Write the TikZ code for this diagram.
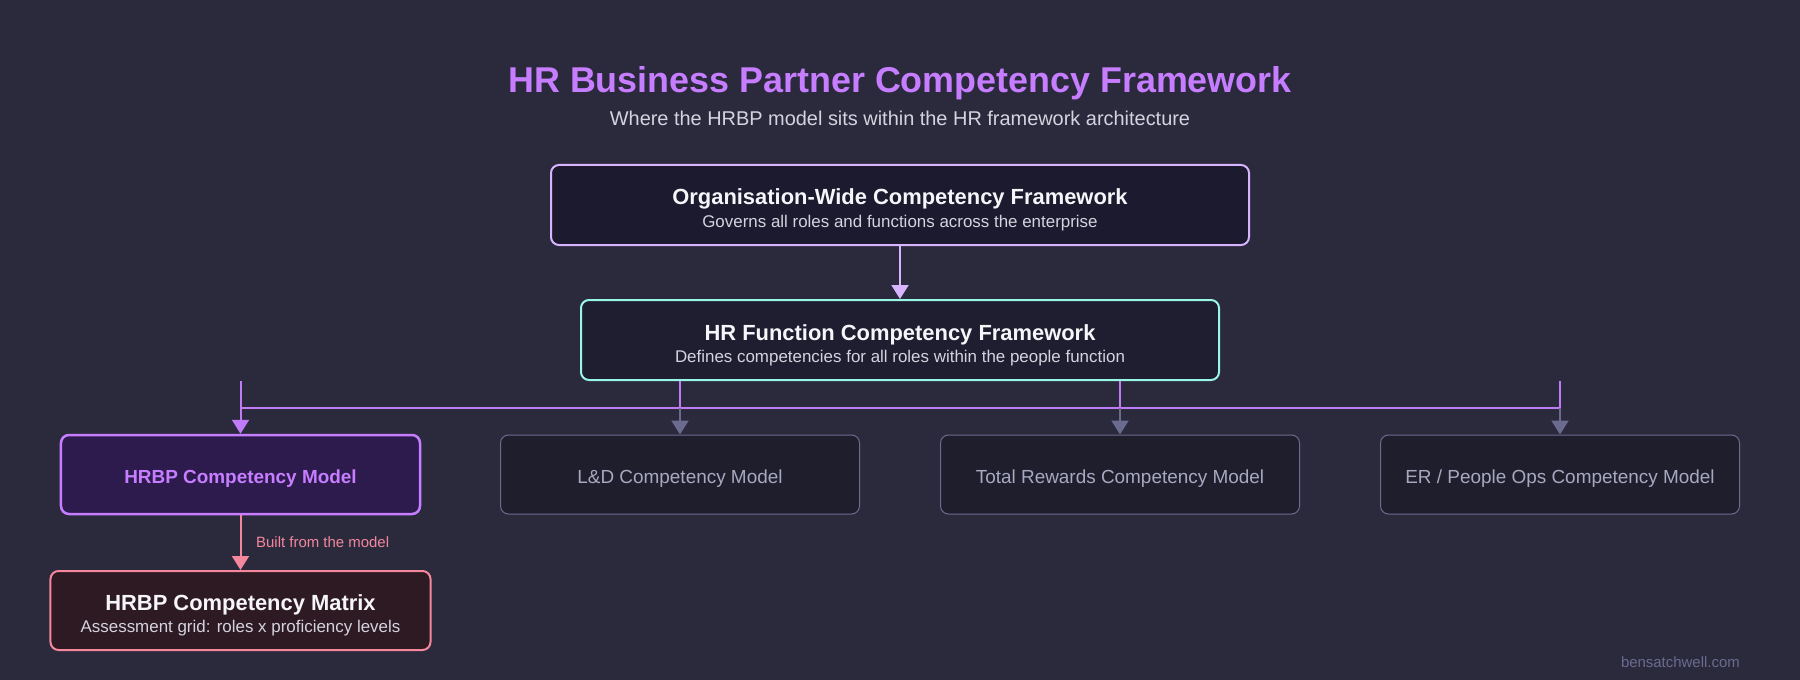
\documentclass[tikz,border=0pt]{standalone}
\usepackage{fontspec}
\setmainfont{Liberation Sans}
\usetikzlibrary{arrows.meta}

\definecolor{bgdark}{HTML}{2B2A3D}
\definecolor{titlepurple}{HTML}{C77DFF}
\definecolor{subgrey}{HTML}{D4D4E0}
\definecolor{lavender}{HTML}{D8B4FE}
\definecolor{mint}{HTML}{99F6E4}
\definecolor{linepurple}{HTML}{C07CF8}
\definecolor{mutedgrey}{HTML}{6B6B8F}
\definecolor{mutedtext}{HTML}{A8A8C0}
\definecolor{pinkish}{HTML}{F4879C}
\definecolor{offwhite}{HTML}{F5F5FA}

\newcommand{\boxlines}[2]{{\fontsize{22}{24}\selectfont\bfseries\rule{0pt}{26pt}#1}\\[4.5pt]{\fontsize{17}{19}\selectfont\color{subgrey}#2}}

\begin{document}
\begin{tikzpicture}
  [x=1bp,y=-1bp,
   every node/.style={inner sep=0pt},
   fwbox/.style={rounded corners=8bp,line width=2bp,align=center,text=offwhite},
   modelbox/.style={rounded corners=8bp,line width=1bp,draw=mutedgrey,fill={rgb,255:red,31;green,30;blue,45},
     minimum width=359bp,minimum height=79bp,text height=17bp,text depth=0bp,
     text=mutedtext,font=\fontsize{19}{22}\selectfont},
   busline/.style={draw=linepurple,line width=2bp},
   feedarrow/.style={line width=2bp,-{Triangle[width=17bp,length=14bp]}}]
  \fill[bgdark] (0,0) rectangle (1800,680);

  \node[text=titlepurple,font=\fontsize{36}{40}\selectfont\bfseries] (title) at (900,83.5) {HR Business Partner Competency Framework};
  \node[text=subgrey,font=\fontsize{20}{24}\selectfont] (subtitle) at (900,118) {Where the HRBP model sits within the HR framework architecture};

  \node[fwbox,draw=lavender,fill={rgb,255:red,27;green,26;blue,46},minimum width=698bp,minimum height=80bp] (org) at (900,205)
    {\boxlines{Organisation-Wide Competency Framework}{Governs all roles and functions across the enterprise}};
  \node[fwbox,draw=mint,fill={rgb,255:red,31;green,30;blue,48},minimum width=638bp,minimum height=80bp] (hrf) at (900,340)
    {\boxlines{HR Function Competency Framework}{Defines competencies for all roles within the people function}};

  \node[modelbox,line width=2.5bp,draw=titlepurple,fill={rgb,255:red,45;green,27;blue,78},text=titlepurple,font=\fontsize{19}{22}\selectfont\bfseries] (hrbp) at (240.5,474.5) {HRBP Competency Model};
  \node[modelbox] (ld) at (680,474.5) {L\&D Competency Model};
  \node[modelbox] (tr) at (1120,474.5) {Total Rewards Competency Model};
  \node[modelbox] (er) at (1560,474.5) {ER / People Ops Competency Model};

  \node[fwbox,draw=pinkish,fill={rgb,255:red,46;green,26;blue,34},minimum width=380bp,minimum height=79bp] (matrix) at (240.5,610.5)
    {\boxlines{HRBP Competency Matrix}{Assessment grid: roles x proficiency levels}};

  \node[anchor=west,text=pinkish,font=\fontsize{15}{18}\selectfont] (built) at (256,542) {Built from the model};
  \node[anchor=east,text=mutedgrey,font=\fontsize{15}{18}\selectfont] (credit) at (1740,662) {bensatchwell.com};

  % connectors
  \coordinate (busL) at (240.5,407.5);
  \coordinate (busR) at (1560,407.5);
  \draw[feedarrow,lavender] (org) -- (hrf);
  \draw[busline] (busL) -- (busR);
  \foreach \to in {ld,tr,er}
    \draw[busline] (hrf.south -| \to) -- (busL -| \to);
  \foreach \to in {ld,tr,er}
    \draw[feedarrow,mutedgrey] (busL -| \to) -- (\to);
  \draw[feedarrow,linepurple] (hrf.south -| hrbp) -- (hrbp);
  \draw[feedarrow,pinkish] (hrbp) -- (matrix);

\end{tikzpicture}
\end{document}
